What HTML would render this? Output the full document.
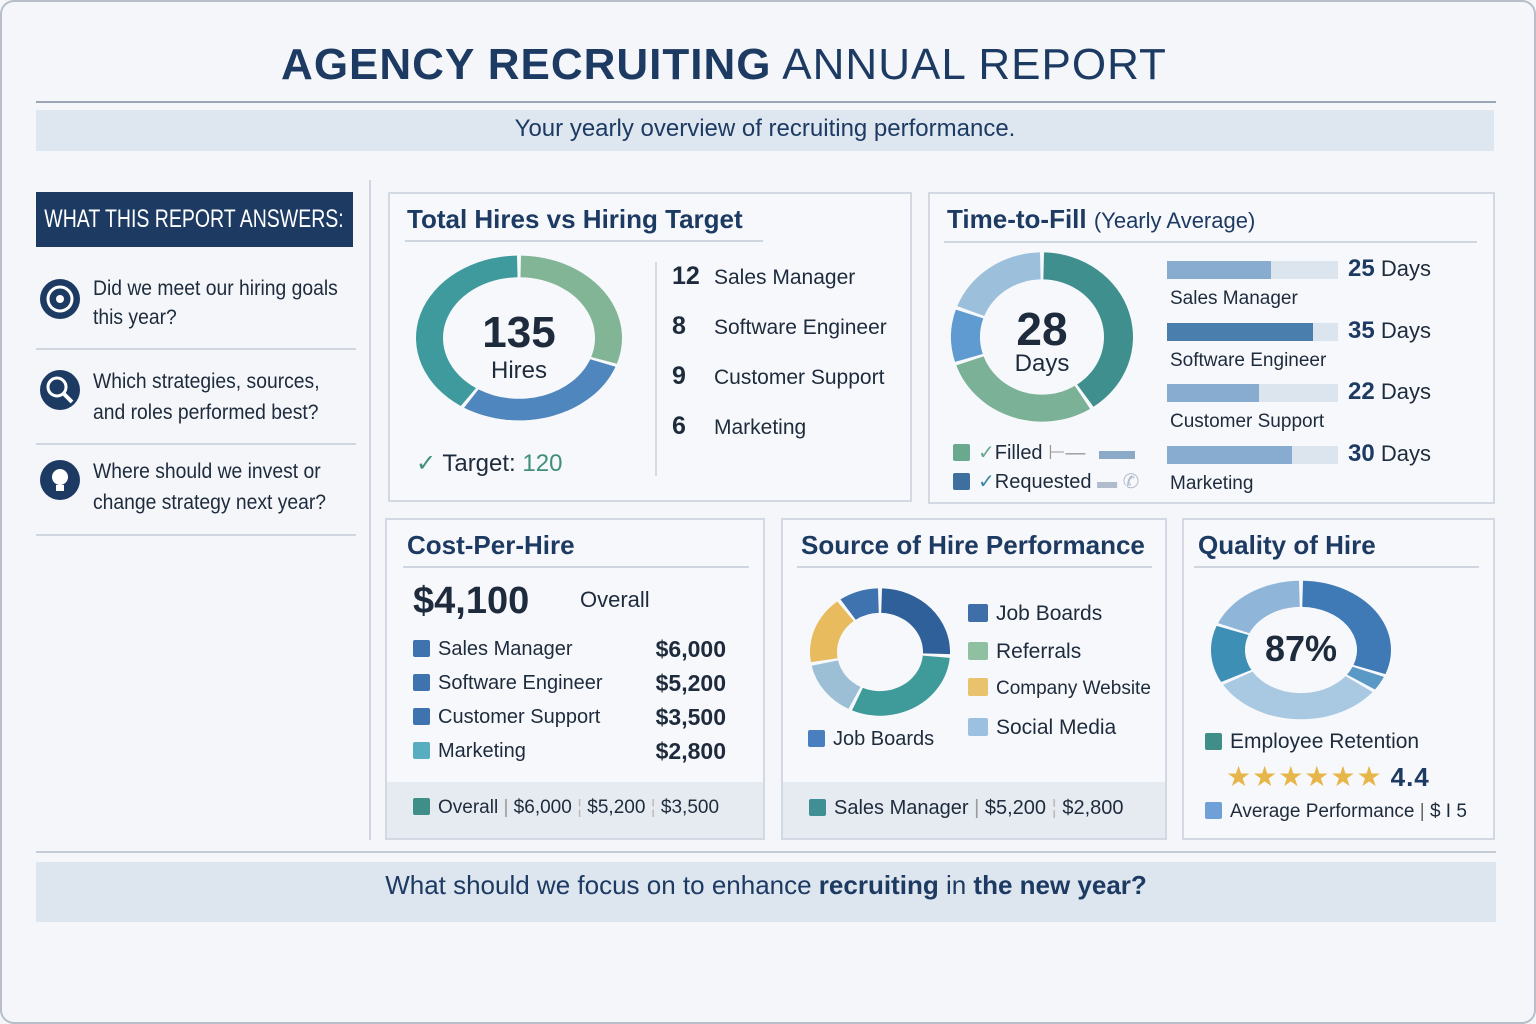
<!DOCTYPE html>
<html><head><meta charset="utf-8">
<style>
*{margin:0;padding:0;box-sizing:border-box}
body{width:1536px;height:1024px;background:#f4f6fa;font-family:"Liberation Sans",sans-serif;color:#1e2b3c;position:relative;overflow:hidden}
.a{position:absolute}
.panel{position:absolute;border:2px solid #d3d9e2;background:#f7f8fb}
.ptitle{position:absolute;font-weight:bold;color:#1d3a63;font-size:26px}
.rule{position:absolute;height:2px;background:#d0d6df}
.sw{display:inline-block;width:17px;height:17px;border-radius:2px;vertical-align:-2px;margin-right:8px}
.t{position:absolute;white-space:nowrap}
</style></head><body>
<div class="a" style="left:0;top:0;width:1536px;height:1024px;border:2px solid #b8bec8;border-radius:14px"></div>
<div class="t" style="left:0;width:1448px;top:40px;text-align:center;font-size:44px;color:#1d3a63;letter-spacing:1px"><b>AGENCY RECRUITING</b> ANNUAL REPORT</div>
<div class="rule" style="left:36px;top:101px;width:1460px;background:#9aa5b5"></div>
<div class="a" style="left:36px;top:110px;width:1458px;height:41px;background:#dee7f0;text-align:center;font-size:24px;line-height:38px;color:#1d3a63">Your yearly overview of recruiting performance.</div>

<div class="a" style="left:36px;top:192px;width:317px;height:55px;background:#1d3a63;color:#fff;font-size:25px;line-height:55px;white-space:nowrap;overflow:hidden"><span style="position:absolute;left:-42px;width:400px;text-align:center;transform:scaleX(0.78)">WHAT THIS REPORT ANSWERS:</span></div>
<div class="a" style="left:36px;top:260px;width:320px">
 <svg class="a" style="left:2px;top:17px" width="44" height="44"><circle cx="22" cy="22" r="20" fill="#1d3a63"/><circle cx="22" cy="22" r="12" fill="none" stroke="#fff" stroke-width="3"/><circle cx="22" cy="22" r="4" fill="#fff"/></svg>
 <div class="t" style="left:57px;top:14px;font-size:21px;line-height:29px;transform:scaleX(0.92);transform-origin:left">Did we meet our hiring goals<br>this year?</div>
 <div class="rule" style="left:0;top:88px;width:320px"></div>
 <svg class="a" style="left:2px;top:108px" width="44" height="44"><circle cx="22" cy="22" r="20" fill="#1d3a63"/><circle cx="19" cy="19" r="9" fill="none" stroke="#fff" stroke-width="3"/><line x1="26" y1="26" x2="34" y2="34" stroke="#fff" stroke-width="4"/></svg>
 <div class="t" style="left:57px;top:106px;font-size:21px;line-height:31px;transform:scaleX(0.92);transform-origin:left">Which strategies, sources,<br>and roles performed best?</div>
 <div class="rule" style="left:0;top:183px;width:320px"></div>
 <svg class="a" style="left:2px;top:198px" width="44" height="44"><circle cx="22" cy="22" r="20" fill="#1d3a63"/><circle cx="22" cy="19" r="8" fill="#fff"/><rect x="18" y="27" width="8" height="6" fill="#fff"/></svg>
 <div class="t" style="left:57px;top:196px;font-size:21px;line-height:31px;transform:scaleX(0.92);transform-origin:left">Where should we invest or<br>change strategy next year?</div>
 <div class="rule" style="left:0;top:274px;width:320px"></div>
</div>
<div class="a" style="left:369px;top:180px;width:2px;height:660px;background:#d0d6df"></div>

<!-- Total hires -->
<div class="panel" style="left:388px;top:192px;width:524px;height:310px"></div>
<div class="ptitle" style="left:407px;top:204px">Total Hires vs Hiring Target</div>
<div class="rule" style="left:405px;top:240px;width:358px"></div>
<svg class="a" id="d1" style="left:0;top:0;overflow:visible" width="1" height="1"></svg>
<div class="t" style="left:459px;top:308px;width:120px;text-align:center;font-size:44px;font-weight:bold;color:#1e2b3c">135</div>
<div class="t" style="left:459px;top:357px;width:120px;text-align:center;font-size:24px">Hires</div>
<div class="t" style="left:416px;top:449px;font-size:24px"><span style="color:#3f8f7a">✓</span> Target: <span style="color:#3f8f7a">120</span></div>
<div class="a" style="left:655px;top:262px;width:2px;height:214px;background:#d6dbe3"></div>
<div id="hireList" class="a" style="left:672px;top:262px"></div>

<!-- Time to fill -->
<div class="panel" style="left:928px;top:192px;width:567px;height:312px"></div>
<div class="t" style="left:947px;top:204px;font-size:26px;color:#1d3a63"><b>Time-to-Fill</b> <span style="font-size:22px">(Yearly Average)</span></div>
<div class="rule" style="left:944px;top:241px;width:533px"></div>
<svg class="a" id="d2" style="left:0;top:0;overflow:visible" width="1" height="1"></svg>
<div class="t" style="left:982px;top:302px;width:120px;text-align:center;font-size:46px;font-weight:bold">28</div>
<div class="t" style="left:982px;top:350px;width:120px;text-align:center;font-size:24px">Days</div>
<div class="t" style="left:953px;top:440px;font-size:20px"><span class="sw" style="background:#6aa88f"></span><span style="color:#6aa88f">✓</span>Filled <span style="color:#999">⊢—</span> <span style="display:inline-block;width:36px;height:8px;background:#8aaac8;margin-left:8px"></span></div>
<div class="t" style="left:953px;top:469px;font-size:20px"><span class="sw" style="background:#3f6f9f"></span><span style="color:#3a86a8">✓</span>Requested <span style="color:#b0bccb">▬ ✆</span></div>
<div id="ttf" class="a" style="left:0;top:0"></div>

<!-- Cost per hire -->
<div class="panel" style="left:385px;top:518px;width:380px;height:322px"></div>
<div class="a" style="left:387px;top:782px;width:376px;height:56px;background:#e6ebf1"></div>
<div class="ptitle" style="left:407px;top:530px">Cost-Per-Hire</div>
<div class="rule" style="left:403px;top:566px;width:346px"></div>
<div class="t" style="left:413px;top:580px;font-size:38px;font-weight:bold">$4,100</div>
<div class="t" style="left:580px;top:587px;font-size:22px">Overall</div>
<div id="costList" class="a" style="left:0;top:0"></div>
<div class="t" style="left:413px;top:797px;font-size:19px"><span class="sw" style="background:#3f8f88"></span>Overall <span style="color:#999">|</span> $6,000 <span style="color:#bbb">¦</span> $5,200 <span style="color:#bbb">¦</span> $3,500</div>

<!-- Source -->
<div class="panel" style="left:781px;top:518px;width:386px;height:322px"></div>
<div class="a" style="left:783px;top:782px;width:382px;height:56px;background:#e6ebf1"></div>
<div class="ptitle" style="left:801px;top:530px">Source of Hire Performance</div>
<div class="rule" style="left:797px;top:566px;width:355px"></div>
<svg class="a" id="d3" style="left:0;top:0;overflow:visible" width="1" height="1"></svg>
<div id="srcLegend" class="a" style="left:968px;top:602px"></div>
<div class="t" style="left:808px;top:728px;font-size:20px"><span class="sw" style="background:#4a7fbf"></span>Job Boards</div>
<div class="t" style="left:809px;top:797px;font-size:20px"><span class="sw" style="background:#3f8f95"></span>Sales Manager <span style="color:#999">|</span> $5,200 <span style="color:#bbb">¦</span> $2,800</div>

<!-- Quality -->
<div class="panel" style="left:1182px;top:518px;width:313px;height:322px"></div>
<div class="ptitle" style="left:1198px;top:530px">Quality of Hire</div>
<div class="rule" style="left:1194px;top:566px;width:285px"></div>
<svg class="a" id="d4" style="left:0;top:0;overflow:visible" width="1" height="1"></svg>
<div class="t" style="left:1241px;top:628px;width:120px;text-align:center;font-size:36px;font-weight:bold">87%</div>
<div class="t" style="left:1205px;top:730px;font-size:21px"><span class="sw" style="background:#3f8f88"></span>Employee Retention</div>
<div class="t" style="left:1226px;top:760px;font-size:28px;color:#e7b64a;letter-spacing:1px">★★★★★★<span style="color:#1d3a63;font-weight:bold;margin-left:8px;font-size:26px">4.4</span></div>
<div class="t" style="left:1205px;top:801px;font-size:19px"><span class="sw" style="background:#6fa0d8"></span>Average Performance <span style="color:#666">|</span> $ I 5</div>

<div class="rule" style="left:36px;top:851px;width:1460px;background:#c5ccd6"></div>
<div class="a" style="left:36px;top:862px;width:1460px;height:60px;background:#dde6ef;text-align:center;font-size:26px;line-height:46px;color:#1d3a63">What should we focus on to enhance <b>recruiting</b> in <b>the new year?</b></div>

<script>
const hireRoles=["Sales Manager","Software Engineer","Customer Support","Marketing"];
const hireCounts=[12,8,9,6];
const hireSegments=[41,39,55];
const hireColors=["#82b596","#4f86bd","#3e9a9d"];
const ttfSegments=[42,30,11,20];
const ttfColors=["#3f8f8e","#7bb196","#5f9ad0","#9cbfdc"];
const ttfRoles=["Sales Manager","Software Engineer","Customer Support","Marketing"];
const ttfDays=[25,35,22,30];
const costRoles=["Sales Manager","Software Engineer","Customer Support","Marketing"];
const costValues=[6000,5200,3500,2800];
const costColors=["#3f73b0","#3f73b0","#3f73b0","#58aec0"];
const sourceNames=["Job Boards","Referrals","Company Website","Social Media"];
const sourceSegments=[26,31,15,18,10];
const sourceColors=["#2f609a","#3f9a9a","#9cbfd6","#e8bb5e","#3f73b0"];
const legendColors=["#3f6fa8","#8fc0a2","#e8c26c","#9cc0e0"];
const qualitySegments=[31,4,32,14,19];
const qualityColors=["#3f7ab6","#5a98c6","#a9c9e2","#3e8fb5","#8fb6d9"];

function donut(id,cx,cy,ro,ri,sy,vals,cols,gap){
  const svg=document.getElementById(id);const tot=vals.reduce((a,b)=>a+b,0);let a0=0;
  vals.forEach((v,i)=>{
    const a1=a0+v/tot*Math.PI*2;const g=gap/ro;
    const s=a0+g/2,e=a1-g/2;
    const p=(r,a)=>[cx+r*Math.sin(a),cy-r*sy*Math.cos(a)];
    const [x1,y1]=p(ro,s),[x2,y2]=p(ro,e),[x3,y3]=p(ri,e),[x4,y4]=p(ri,s);
    const lg=(e-s)>Math.PI?1:0;
    const path=document.createElementNS("http://www.w3.org/2000/svg","path");
    path.setAttribute("d",`M${x1},${y1}A${ro},${ro*sy} 0 ${lg} 1 ${x2},${y2}L${x3},${y3}A${ri},${ri*sy} 0 ${lg} 0 ${x4},${y4}Z`);
    path.setAttribute("fill",cols[i]);
    
    
    svg.appendChild(path);a0=a1;
  });
}
donut("d1",519,338,103,76,0.8,hireSegments,hireColors,4);
donut("d2",1042,337,91,62,0.93,ttfSegments,ttfColors,4);
donut("d3",880,652,70,43,0.91,sourceSegments,sourceColors,4);
donut("d4",1301,650,90,56,0.77,qualitySegments,qualityColors,4);

const hl=document.getElementById("hireList");
hireRoles.forEach((r,i)=>{
  const d=document.createElement("div");d.className="t";
  
  
  d.style.cssText=`left:0;top:${i*50}px;font-size:21px`;
  d.innerHTML=`<b style="font-size:25px;display:inline-block;width:42px">${hireCounts[i]}</b>${r}`;
  hl.appendChild(d);
});
const tb=document.getElementById("ttf");const maxDays=41;const trackW=171;
ttfRoles.forEach((r,i)=>{
  const y=261+i*61.5;
  const tr=document.createElement("div");tr.className="a";
  
  
  tr.style.cssText=`left:1167px;top:${y}px;width:${trackW}px;height:18px;background:#dce5ee`;tb.appendChild(tr);
  const b=document.createElement("div");b.className="a";
  
  
  b.style.cssText=`left:1167px;top:${y}px;width:${ttfDays[i]/maxDays*trackW}px;height:18px;background:${i==1?'#4a7eac':'#88acd0'}`;tb.appendChild(b);
  const v=document.createElement("div");v.className="t";
  
  
  v.style.cssText=`left:1348px;top:${y-6}px;font-size:22px`;
  v.innerHTML=`<b style="color:#1d3a63;font-size:24px">${ttfDays[i]}</b> Days`;tb.appendChild(v);
  const l=document.createElement("div");l.className="t";
  
  
  l.style.cssText=`left:1170px;top:${y+27}px;font-size:19px`;l.textContent=r;tb.appendChild(l);
});
const cl=document.getElementById("costList");
costRoles.forEach((r,i)=>{
  const y=638+i*34;
  const d=document.createElement("div");d.className="t";
  
  
  d.style.cssText=`left:413px;top:${y}px;font-size:20px`;
  d.innerHTML=`<span class="sw" style="background:${costColors[i]}"></span>${r}`;cl.appendChild(d);
  const v=document.createElement("div");v.className="t";
  
  
  v.style.cssText=`left:600px;width:126px;text-align:right;top:${y-2}px;font-size:23px;font-weight:bold`;
  v.textContent="$"+costValues[i].toLocaleString("en-US");cl.appendChild(v);
});
const sl=document.getElementById("srcLegend");
sourceNames.forEach((n,i)=>{
  const d=document.createElement("div");d.className="t";
  
  
  d.style.cssText=`left:0;top:${i*38}px;font-size:${i==2?19:21}px`;
  d.innerHTML=`<span class="sw" style="background:${legendColors[i]};width:20px;height:18px"></span>${n}`;sl.appendChild(d);
});
</script>
</body></html>
